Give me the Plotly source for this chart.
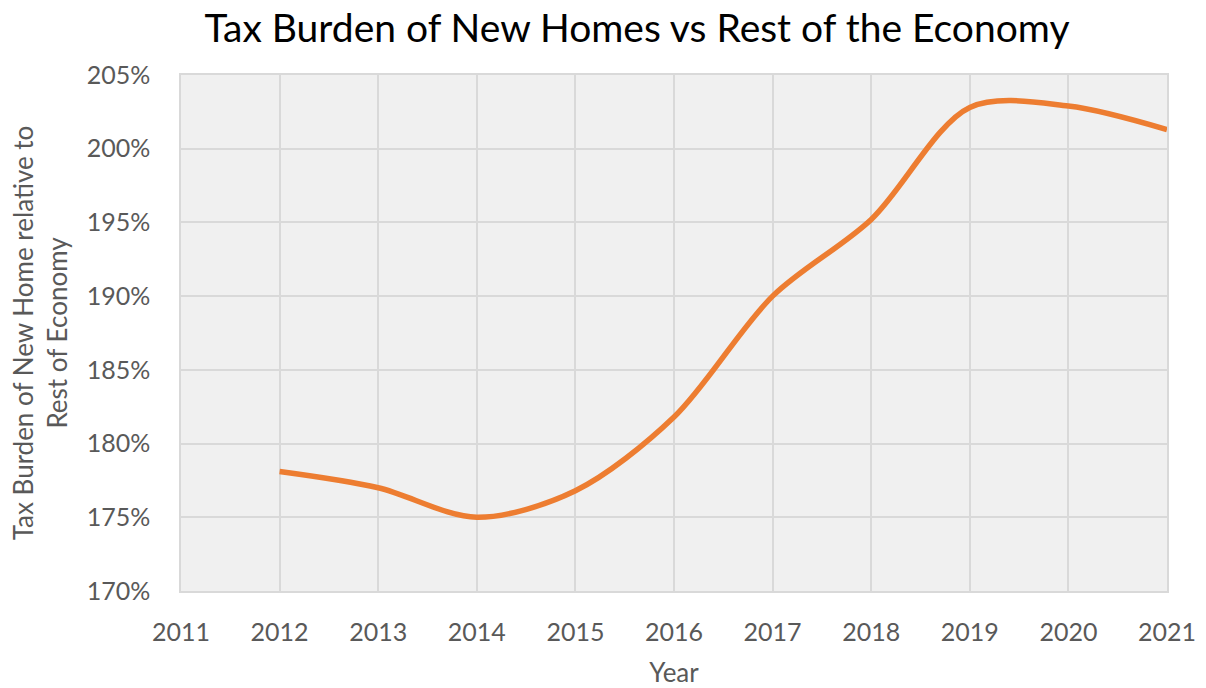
import plotly.graph_objects as go

years = [2012, 2013, 2014, 2015, 2016, 2017, 2018, 2019, 2020, 2021]
burden = [1.781, 1.770, 1.750, 1.768, 1.818, 1.900, 1.952, 2.028, 2.029, 2.013]
x_ticks = list(range(2011, 2022))
y_ticks = [1.70, 1.75, 1.80, 1.85, 1.90, 1.95, 2.00, 2.05]

font_family = "Lato, Open Sans, sans-serif"
text_color = "#595959"

W, H = 1206, 688

fig = go.Figure()
fig.add_trace(go.Scatter(
    x=years, y=burden, mode="lines",
    line=dict(color="#ED7D31", width=5.5, shape="spline", smoothing=0.9),
    showlegend=False, hoverinfo="x+y"))

fig.update_layout(
    width=W, height=H,
    margin=dict(l=181, r=39, t=75, b=97),
    paper_bgcolor="white", plot_bgcolor="#F0F0F0",
    font=dict(family=font_family, color=text_color, size=25),
    title=dict(text="Tax Burden of New Homes vs Rest of the Economy",
               x=637 / W, xanchor="center", xref="container", y=1 - 28 / H, yref="container",
               yanchor="middle",
               font=dict(size=39, color="#000000", family=font_family)),
    xaxis=dict(range=[2011, 2021], tickvals=x_ticks, ticktext=[str(v) for v in x_ticks],
               showgrid=True, gridcolor="#D9D9D9", gridwidth=1.5,
               showline=True, linecolor="#D9D9D9", linewidth=1.5, mirror=True,
               zeroline=False, ticks="", ticklabelstandoff=18, automargin=False,
               title=dict(text="Year", standoff=20, font=dict(size=26))),
    yaxis=dict(range=[1.70, 2.05], tickvals=y_ticks, tickformat=".0%",
               showgrid=True, gridcolor="#D9D9D9", gridwidth=1.5,
               showline=True, linecolor="#D9D9D9", linewidth=1.5, mirror=True,
               zeroline=False, ticks="", ticklabelstandoff=24, automargin=False,
               title=dict(text="Tax Burden of New Home relative to<br>Rest of Economy",
                          standoff=12, font=dict(size=26))),
)

fig.write_html("out.html",
               config={"displayModeBar": False},
               post_script="document.body.style.margin='0';document.body.style.overflow='hidden';")
